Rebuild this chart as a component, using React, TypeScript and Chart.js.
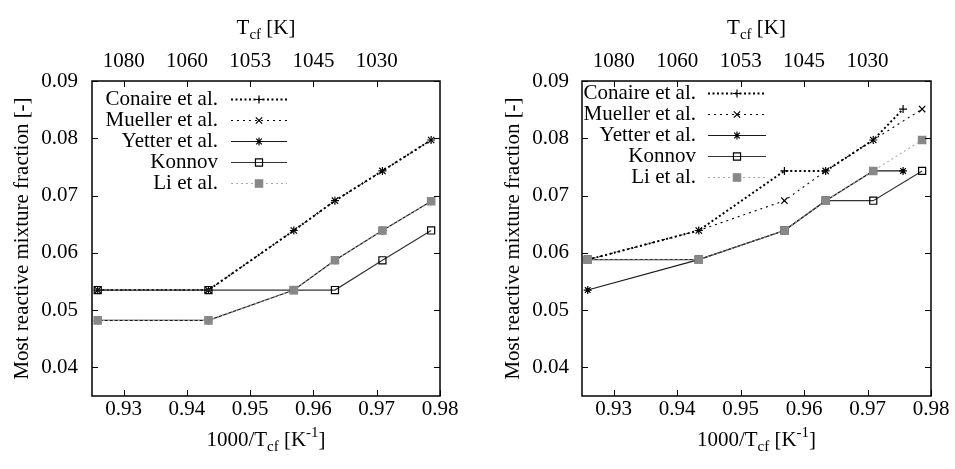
import React, { useEffect, useRef } from 'react';
import { Chart, registerables } from 'chart.js';

Chart.register(...registerables);

// ---- axis ticks ----
const xTickValues = [0.93, 0.94, 0.95, 0.96, 0.97, 0.98];
const topTickValues = [0.93, 0.94, 0.95, 0.96, 0.97];
const topTickLabels = ['1080', '1060', '1053', '1045', '1030'];
const yTickValues = [0.04, 0.05, 0.06, 0.07, 0.08, 0.09];

// ---- x positions (1000/Tcf) ----
const xFull = [0.9259, 0.9434, 0.9569, 0.9634, 0.9709, 0.9786];
const xShort = [0.9259, 0.9434, 0.9569, 0.9634, 0.9709, 0.9756];

const seriesNames = ['Conaire et al.', 'Mueller et al.', 'Yetter et al.', 'Konnov', 'Li et al.'];

// ---- left panel values ----
const conaireLeft = [0.0535, 0.0535, 0.0639, 0.0691, 0.0743, 0.0797];
const muellerLeft = [0.0535, 0.0535, 0.0639, 0.0691, 0.0743, 0.0797];
const yetterLeft = [0.0482, 0.0482, 0.0535, 0.0587, 0.0639, 0.069];
const konnovLeft = [0.0535, 0.0535, 0.0535, 0.0535, 0.0587, 0.0639];
const liLeft = [0.0482, 0.0482, 0.0535, 0.0587, 0.0639, 0.069];

// ---- right panel values ----
const conaireRight = [0.0588, 0.0639, 0.0743, 0.0743, 0.0797, 0.0851];
const muellerRight = [0.0588, 0.0639, 0.0691, 0.0743, 0.0797, 0.0851];
const yetterRight = [0.0535, 0.0588, 0.0639, 0.0691, 0.0743, 0.0743];
const konnovRight = [0.0588, 0.0588, 0.0639, 0.0691, 0.0691, 0.0743];
const liRight = [0.0588, 0.0588, 0.0639, 0.0691, 0.0743, 0.0797];

const FONT = "'Liberation Serif', 'Times New Roman', serif";

type Style = {
  color: string;
  width: number;
  dash: number[];
  point: string;
  radius: number;
  pointFill: string;
  pointBorder: string;
};

const styles: Style[] = [
  { color: '#000', width: 2, dash: [2, 2.5], point: 'cross', radius: 4, pointFill: '#000', pointBorder: '#000' },
  { color: '#000', width: 1.1, dash: [2, 4], point: 'crossRot', radius: 4.5, pointFill: '#000', pointBorder: '#000' },
  { color: '#1a1a1a', width: 1.2, dash: [], point: 'star', radius: 4, pointFill: '#000', pointBorder: '#000' },
  { color: '#333', width: 1.2, dash: [], point: 'rect', radius: 5, pointFill: 'rgba(0,0,0,0)', pointBorder: '#000' },
  { color: '#aaa', width: 1.1, dash: [2, 3], point: 'rect', radius: 5.2, pointFill: '#888', pointBorder: '#888' },
];

function pts(xs: number[], ys: number[]) {
  return ys.map((y, i) => ({ x: xs[i], y }));
}

function makeDatasets(series: { xs: number[]; ys: number[] }[]) {
  return series.map((s, i) => {
    const st = styles[i];
    return {
      label: seriesNames[i],
      data: pts(s.xs, s.ys),
      borderColor: st.color,
      borderWidth: st.width,
      borderDash: st.dash,
      pointStyle: st.point,
      pointRadius: st.radius,
      pointHoverRadius: st.radius,
      pointBackgroundColor: st.pointFill,
      pointBorderColor: st.pointBorder,
      pointBorderWidth: 1.2,
      tension: 0,
      fill: false,
      order: series.length - i,
    };
  });
}

function drawMarker(ctx: CanvasRenderingContext2D, st: Style, x: number, y: number) {
  const r = st.radius;
  ctx.save();
  ctx.setLineDash([]);
  ctx.lineWidth = 1.2;
  ctx.strokeStyle = st.pointBorder;
  ctx.fillStyle = st.pointFill;
  ctx.beginPath();
  if (st.point === 'cross' || st.point === 'star') {
    ctx.moveTo(x - r, y); ctx.lineTo(x + r, y);
    ctx.moveTo(x, y - r); ctx.lineTo(x, y + r);
  }
  if (st.point === 'crossRot' || st.point === 'star') {
    const d = r * Math.SQRT1_2;
    ctx.moveTo(x - d, y - d); ctx.lineTo(x + d, y + d);
    ctx.moveTo(x - d, y + d); ctx.lineTo(x + d, y - d);
  }
  if (st.point === 'rect') {
    const s = r * Math.SQRT1_2;
    ctx.rect(x - s, y - s, 2 * s, 2 * s);
    ctx.fill();
  }
  ctx.stroke();
  ctx.restore();
}

type Piece = { t: string; size: number; dy: number };

function drawRich(ctx: CanvasRenderingContext2D, pieces: Piece[], cx: number, baseline: number) {
  let total = 0;
  const widths = pieces.map((p) => {
    ctx.font = `${p.size}px ${FONT}`;
    const w = ctx.measureText(p.t).width;
    total += w;
    return w;
  });
  let x = cx - total / 2;
  ctx.textAlign = 'left';
  ctx.textBaseline = 'alphabetic';
  ctx.fillStyle = '#000';
  pieces.forEach((p, i) => {
    ctx.font = `${p.size}px ${FONT}`;
    ctx.fillText(p.t, x, baseline + p.dy);
    x += widths[i];
  });
}

const decorPlugin = {
  id: 'decor',
  afterDraw(chart: any, _args: any, opts: any) {
    const { ctx, chartArea: a, scales } = chart;
    const xs = scales.x;
    const ys = scales.y;
    ctx.save();
    ctx.setLineDash([]);
    ctx.strokeStyle = '#000';
    ctx.lineWidth = 1;
    const tl = 6;
    ctx.beginPath();
    for (const v of xTickValues) {
      const px = Math.round(xs.getPixelForValue(v)) + 0.5;
      ctx.moveTo(px, a.bottom); ctx.lineTo(px, a.bottom - tl);
    }
    for (const v of topTickValues) {
      const px = Math.round(xs.getPixelForValue(v)) + 0.5;
      ctx.moveTo(px, a.top); ctx.lineTo(px, a.top + tl);
    }
    for (const v of yTickValues) {
      const py = Math.round(ys.getPixelForValue(v)) + 0.5;
      ctx.moveTo(a.left, py); ctx.lineTo(a.left + tl, py);
      ctx.moveTo(a.right, py); ctx.lineTo(a.right - tl, py);
    }
    ctx.stroke();
    ctx.lineWidth = 1.5;
    ctx.strokeRect(a.left, a.top, a.right - a.left, a.bottom - a.top);

    const cx = (a.left + a.right) / 2;
    // bottom title: 1000/Tcf [K^-1]
    drawRich(ctx, [
      { t: '1000/T', size: 21, dy: 0 },
      { t: 'cf', size: 15, dy: 5 },
      { t: ' [K', size: 21, dy: 0 },
      { t: '-1', size: 15, dy: -9 },
      { t: ']', size: 21, dy: 0 },
    ], cx, opts.bottomTitleY);
    // top title: Tcf [K]
    drawRich(ctx, [
      { t: 'T', size: 21, dy: 0 },
      { t: 'cf', size: 15, dy: 5 },
      { t: ' [K]', size: 21, dy: 0 },
    ], cx, opts.topTitleY);

    // legend
    ctx.font = `21px ${FONT}`;
    ctx.textAlign = 'right';
    ctx.textBaseline = 'middle';
    chart.data.datasets.forEach((ds: any, i: number) => {
      const st = styles[i];
      const y = opts.rows[i];
      ctx.fillStyle = '#000';
      ctx.fillText(ds.label, opts.textRight, y);
      ctx.save();
      ctx.strokeStyle = st.color;
      ctx.lineWidth = st.width;
      ctx.setLineDash(st.dash);
      ctx.beginPath();
      ctx.moveTo(opts.lineX1, y + 0.5);
      ctx.lineTo(opts.lineX2, y + 0.5);
      ctx.stroke();
      ctx.restore();
      drawMarker(ctx, st, (opts.lineX1 + opts.lineX2) / 2, y + 0.5);
    });
    ctx.restore();
  },
};

function buildConfig(datasets: any[], p: { yWidth: number; rightPad: number; titlePad: number; yLabelPad: number; rows: number[]; textRight: number; lineX1: number; lineX2: number }) {
  const font = { family: FONT, size: 21 };
  return {
    type: 'line' as const,
    data: { datasets },
    plugins: [decorPlugin],
    options: {
      animation: false,
      responsive: false,
      devicePixelRatio: 1,
      layout: { padding: { left: 0, right: p.rightPad, top: 0, bottom: 0 } },
      plugins: {
        legend: { display: false },
        tooltip: { enabled: false },
        decor: {
          rows: p.rows,
          textRight: p.textRight,
          lineX1: p.lineX1,
          lineX2: p.lineX2,
          bottomTitleY: 446,
          topTitleY: 34,
        },
      },
      scales: {
        x: {
          type: 'linear',
          position: 'bottom',
          min: 0.925,
          max: 0.98,
          afterBuildTicks: (s: any) => { s.ticks = xTickValues.map((v) => ({ value: v })); },
          ticks: { font, color: '#000', padding: 1, maxRotation: 0, autoSkip: false, callback: (v: any) => Number(v).toFixed(2) },
          grid: { display: false, drawTicks: false },
          border: { display: false },
          afterFit: (s: any) => { s.height = 73; },
        },
        x2: {
          type: 'linear',
          axis: 'x',
          position: 'top',
          min: 0.925,
          max: 0.98,
          afterBuildTicks: (s: any) => { s.ticks = topTickValues.map((v) => ({ value: v })); },
          ticks: { font, color: '#000', padding: 7, maxRotation: 0, autoSkip: false, callback: (_v: any, i: number) => topTickLabels[i] },
          grid: { display: false, drawTicks: false },
          border: { display: false },
          afterFit: (s: any) => { s.height = 81; },
        },
        y: {
          type: 'linear',
          position: 'left',
          min: 0.035,
          max: 0.09,
          afterBuildTicks: (s: any) => { s.ticks = yTickValues.map((v) => ({ value: v })); },
          ticks: { font, color: '#000', padding: p.yLabelPad, autoSkip: false, callback: (v: any) => Number(v).toFixed(2) },
          grid: { display: false, drawTicks: false },
          border: { display: false },
          title: { display: true, text: 'Most reactive mixture fraction [-]', font, color: '#000', padding: { top: p.titlePad, bottom: 0 } },
          afterFit: (s: any) => { s.width = p.yWidth; },
        },
      },
    },
  };
}

function Panel({ left, width, datasets, params }: { left: number; width: number; datasets: any[]; params: any }) {
  const ref = useRef<HTMLCanvasElement | null>(null);
  useEffect(() => {
    if (!ref.current) return;
    const chart = new Chart(ref.current, buildConfig(datasets, params) as any);
    return () => chart.destroy();
  }, []);
  return (
    <canvas
      ref={ref}
      width={width}
      height={469}
      style={{ position: 'absolute', left, top: 0, width, height: 469, display: 'block' }}
    />
  );
}

export default function App() {
  const leftData = makeDatasets([
    { xs: xFull, ys: conaireLeft },
    { xs: xFull, ys: muellerLeft },
    { xs: xFull, ys: yetterLeft },
    { xs: xFull, ys: konnovLeft },
    { xs: xFull, ys: liLeft },
  ]);
  const rightData = makeDatasets([
    { xs: xShort, ys: conaireRight },
    { xs: xFull, ys: muellerRight },
    { xs: xShort, ys: yetterRight },
    { xs: xFull, ys: konnovRight },
    { xs: xFull, ys: liRight },
  ]);
  return (
    <div style={{ position: 'absolute', left: 0, top: 0, width: 955, height: 469, background: '#fff' }}>
      <Panel
        left={0}
        width={477}
        datasets={leftData}
        params={{ yWidth: 92, rightPad: 37, titlePad: 10, yLabelPad: 14, rows: [99, 120, 141, 162, 183], textRight: 218, lineX1: 231, lineX2: 287 }}
      />
      <Panel
        left={477}
        width={478}
        datasets={rightData}
        params={{ yWidth: 105, rightPad: 24, titlePad: 24, yLabelPad: 13, rows: [93, 114, 135, 156, 177], textRight: 219, lineX1: 231, lineX2: 289 }}
      />
    </div>
  );
}
